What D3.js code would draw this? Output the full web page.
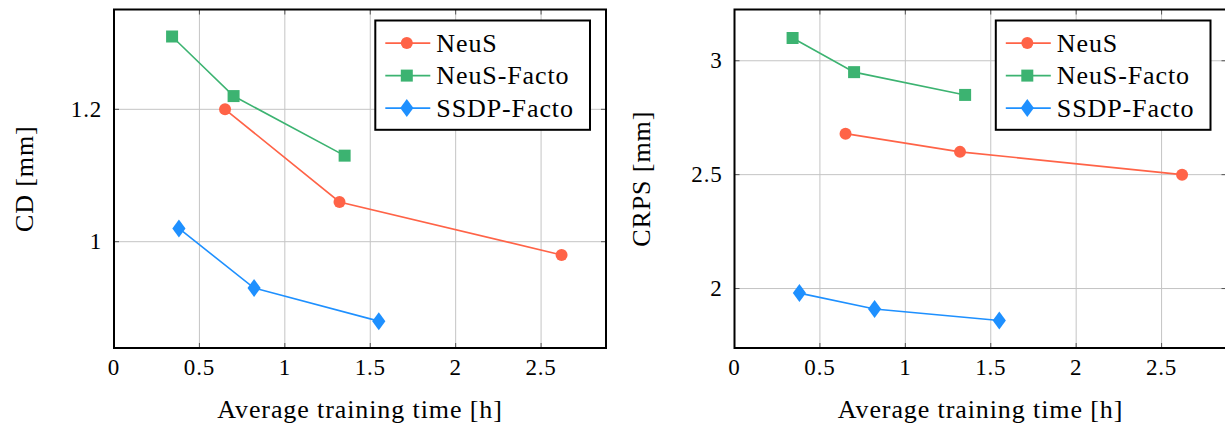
<!DOCTYPE html>
<html>
<head>
<meta charset="utf-8">
<script src="https://cdn.jsdelivr.net/npm/d3@7"></script>
<style>
  html, body { margin: 0; padding: 0; background: #fff; }
  svg { display: block; }
  text { font-family: "Liberation Serif", "Times New Roman", serif; fill: #000; }
</style>
</head>
<body>
<svg id="chart" width="1225" height="423"></svg>
<script>
// ---------- data ----------
const seriesNames = ["NeuS", "NeuS-Facto", "SSDP-Facto"];
const seriesColors = ["#FF6347", "#3CB371", "#1E90FF"];
const seriesMarkers = ["circle", "square", "diamond"];

// training time [h]
const neusTime = [0.65, 1.32, 2.62];
const neusFactoTime = [0.34, 0.70, 1.35];
const ssdpFactoTime = [0.38, 0.82, 1.55];

// CD [mm]
const neusCD = [1.20, 1.06, 0.98];
const neusFactoCD = [1.31, 1.22, 1.13];
const ssdpFactoCD = [1.02, 0.93, 0.88];

// CRPS [mm]
const neusCRPS = [2.68, 2.60, 2.50];
const neusFactoCRPS = [3.10, 2.95, 2.85];
const ssdpFactoCRPS = [1.98, 1.91, 1.86];

const xTicks = [0, 0.5, 1, 1.5, 2, 2.5];
const cdTicks = [1, 1.2];
const crpsTicks = [2, 2.5, 3];

const xLabel = "Average training time [h]";
const cdLabel = "CD [mm]";
const crpsLabel = "CRPS [mm]";

// ---------- drawing ----------
const svg = d3.select("#chart");
const fmt = d => String(d);

function symbolPath(kind) {
  if (kind === "circle") return "M6,0A6,6 0 1,1 -6,0A6,6 0 1,1 6,0Z";
  if (kind === "square") return "M-6,-6H6V6H-6Z";
  return "M0,-9L6.6,0L0,9L-6.6,0Z";
}

function panel(opts) {
  const {left, top, width, height, xDomain, yDomain, yTicks, yLabel, yLabelX, times, values} = opts;
  const x = d3.scaleLinear().domain(xDomain).range([left, left + width]);
  const y = d3.scaleLinear().domain(yDomain).range([top + height, top]);
  const g = svg.append("g");

  // grid
  g.selectAll(".gx").data(xTicks).join("line")
    .attr("x1", d => x(d)).attr("x2", d => x(d))
    .attr("y1", top).attr("y2", top + height)
    .attr("stroke", "#c4c4c4").attr("stroke-width", 1);
  g.selectAll(".gy").data(yTicks).join("line")
    .attr("x1", left).attr("x2", left + width)
    .attr("y1", d => y(d)).attr("y2", d => y(d))
    .attr("stroke", "#c4c4c4").attr("stroke-width", 1);

  // inner ticks on all four sides
  const tl = 5;
  xTicks.forEach(t => {
    g.append("line").attr("x1", x(t)).attr("x2", x(t)).attr("y1", top + height).attr("y2", top + height - tl)
      .attr("stroke", "#555").attr("stroke-width", 1);
    g.append("line").attr("x1", x(t)).attr("x2", x(t)).attr("y1", top).attr("y2", top + tl)
      .attr("stroke", "#555").attr("stroke-width", 1);
  });
  yTicks.forEach(t => {
    g.append("line").attr("x1", left).attr("x2", left + tl).attr("y1", y(t)).attr("y2", y(t))
      .attr("stroke", "#555").attr("stroke-width", 1);
    g.append("line").attr("x1", left + width).attr("x2", left + width - tl).attr("y1", y(t)).attr("y2", y(t))
      .attr("stroke", "#555").attr("stroke-width", 1);
  });

  // series
  seriesNames.forEach((name, i) => {
    const pts = times[i].map((t, k) => [t, values[i][k]]);
    g.append("path").datum(pts)
      .attr("d", d3.line().x(d => x(d[0])).y(d => y(d[1])))
      .attr("fill", "none").attr("stroke", seriesColors[i]).attr("stroke-width", 1.6);
    g.selectAll(null).data(pts).join("path")
      .attr("d", symbolPath(seriesMarkers[i]))
      .attr("transform", d => `translate(${x(d[0])},${y(d[1])})`)
      .attr("fill", seriesColors[i]);
  });

  // frame
  g.append("rect").attr("x", left).attr("y", top).attr("width", width).attr("height", height)
    .attr("fill", "none").attr("stroke", "#000").attr("stroke-width", 2);

  // tick labels
  g.selectAll(".xl").data(xTicks).join("text")
    .attr("x", d => x(d)).attr("y", top + height + 27)
    .attr("text-anchor", "middle").attr("font-size", 23).attr("letter-spacing", 0.8).text(fmt);
  g.selectAll(".yl").data(yTicks).join("text")
    .attr("x", left - 12).attr("y", d => y(d) + 7.5)
    .attr("text-anchor", "end").attr("font-size", 23).attr("letter-spacing", 0.8).text(fmt);

  // axis labels
  g.append("text").attr("x", left + width / 2).attr("y", 418)
    .attr("text-anchor", "middle").attr("font-size", 26).attr("letter-spacing", 0.9).text(xLabel);
  g.append("text")
    .attr("transform", `translate(${yLabelX},${top + height / 2}) rotate(-90)`)
    .attr("text-anchor", "middle").attr("font-size", 26).attr("letter-spacing", 0.9).text(yLabel);

  // legend
  const lw = 214.7, lh = 109.3;
  const lx = left + width - 16 - lw, ly = top + 11;
  g.append("rect").attr("x", lx).attr("y", ly).attr("width", lw).attr("height", lh)
    .attr("fill", "#fff").attr("stroke", "#000").attr("stroke-width", 2);
  seriesNames.forEach((name, i) => {
    const cy = ly + 22.6 + i * 32.5;
    g.append("line").attr("x1", lx + 10).attr("x2", lx + 55).attr("y1", cy).attr("y2", cy)
      .attr("stroke", seriesColors[i]).attr("stroke-width", 1.6);
    g.append("path").attr("d", symbolPath(seriesMarkers[i]))
      .attr("transform", `translate(${lx + 31.5},${cy})`).attr("fill", seriesColors[i]);
    g.append("text").attr("x", lx + 61).attr("y", cy + 8.5)
      .attr("font-size", 26).attr("letter-spacing", 0.9).text(name);
  });
}

panel({
  left: 114, top: 9.5, width: 492, height: 338.5,
  xDomain: [0, 2.88], yDomain: [0.8394, 1.3508], yTicks: cdTicks,
  yLabel: cdLabel, yLabelX: 33,
  times: [neusTime, neusFactoTime, ssdpFactoTime],
  values: [neusCD, neusFactoCD, ssdpFactoCD]
});
panel({
  left: 734.5, top: 9.5, width: 492, height: 338.5,
  xDomain: [0, 2.88], yDomain: [1.739, 3.225], yTicks: crpsTicks,
  yLabel: crpsLabel, yLabelX: 650,
  times: [neusTime, neusFactoTime, ssdpFactoTime],
  values: [neusCRPS, neusFactoCRPS, ssdpFactoCRPS]
});
</script>
</body>
</html>
